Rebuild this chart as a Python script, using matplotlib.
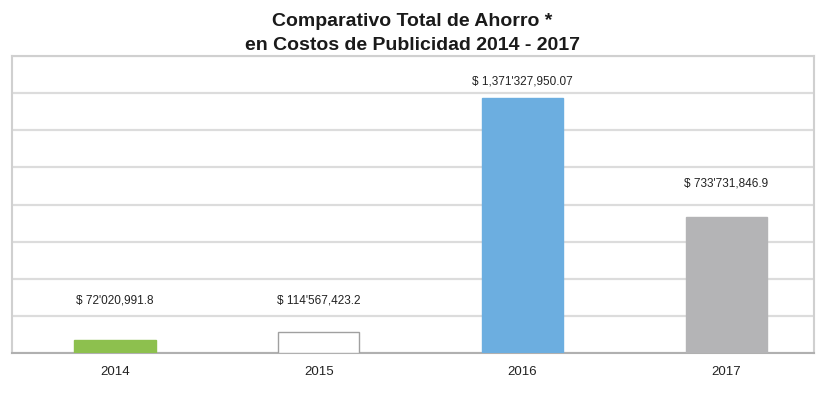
import matplotlib.pyplot as plt

years = ['2014', '2015', '2016', '2017']
savings = [72020991.8, 114567423.2, 1371327950.07, 733731846.9]
value_labels = ["$ 72'020,991.8", "$ 114'567,423.2", "$ 1,371'327,950.07", "$ 733'731,846.9"]

bar_colors = ['#8dc04e', 'white', '#6caee0', '#b4b4b6']
edge_colors = ['#8dc04e', '#a0a0a0', '#6caee0', '#b4b4b6']
label_offsets = [34, 26, 12, 28]  # pixels above bar top

plt.rcParams['font.family'] = ['Liberation Sans', 'DejaVu Sans']

fig = plt.figure(figsize=(8.17, 4.02), dpi=100)
ax = fig.add_axes([12 / 817, 1 - 354 / 402, 802 / 817, 297 / 402])

x = range(len(years))
ax.bar(x, savings, width=0.4, color=bar_colors, edgecolor=edge_colors, linewidth=1, zorder=3)

for i, (v, lab) in enumerate(zip(savings, value_labels)):
    ax.annotate(lab, (i, v), xytext=(0, label_offsets[i]), textcoords='offset pixels',
                ha='center', va='bottom', fontsize=8.5, color='#222222')

ax.set_ylim(0, 1.6e9)
ax.set_xlim(-0.505, 3.43)
ax.set_yticks([i * 2e8 for i in range(9)])
ax.set_yticklabels([])
ax.tick_params(axis='y', length=0)
ax.set_xticks(list(x))
ax.set_xticklabels(years, fontsize=9.5, color='#222222')
ax.tick_params(axis='x', length=0, pad=9)
ax.grid(axis='y', color='#dcdcdc', linewidth=1.6, zorder=0)
for s in ['top', 'left', 'right']:
    ax.spines[s].set_color('#d0d0d0')
    ax.spines[s].set_linewidth(1.5)
ax.spines['bottom'].set_color('#b0b0b0')
ax.spines['bottom'].set_linewidth(1.5)

fig.text(0.505, 1 - 21 / 402, 'Comparativo Total de Ahorro *', ha='center', va='center',
         fontsize=14, fontweight='bold', color='#1a1a1a')
fig.text(0.505, 1 - 45 / 402, 'en Costos de Publicidad 2014 - 2017', ha='center', va='center',
         fontsize=14, fontweight='bold', color='#1a1a1a')

fig.savefig('out.png', dpi=100)
